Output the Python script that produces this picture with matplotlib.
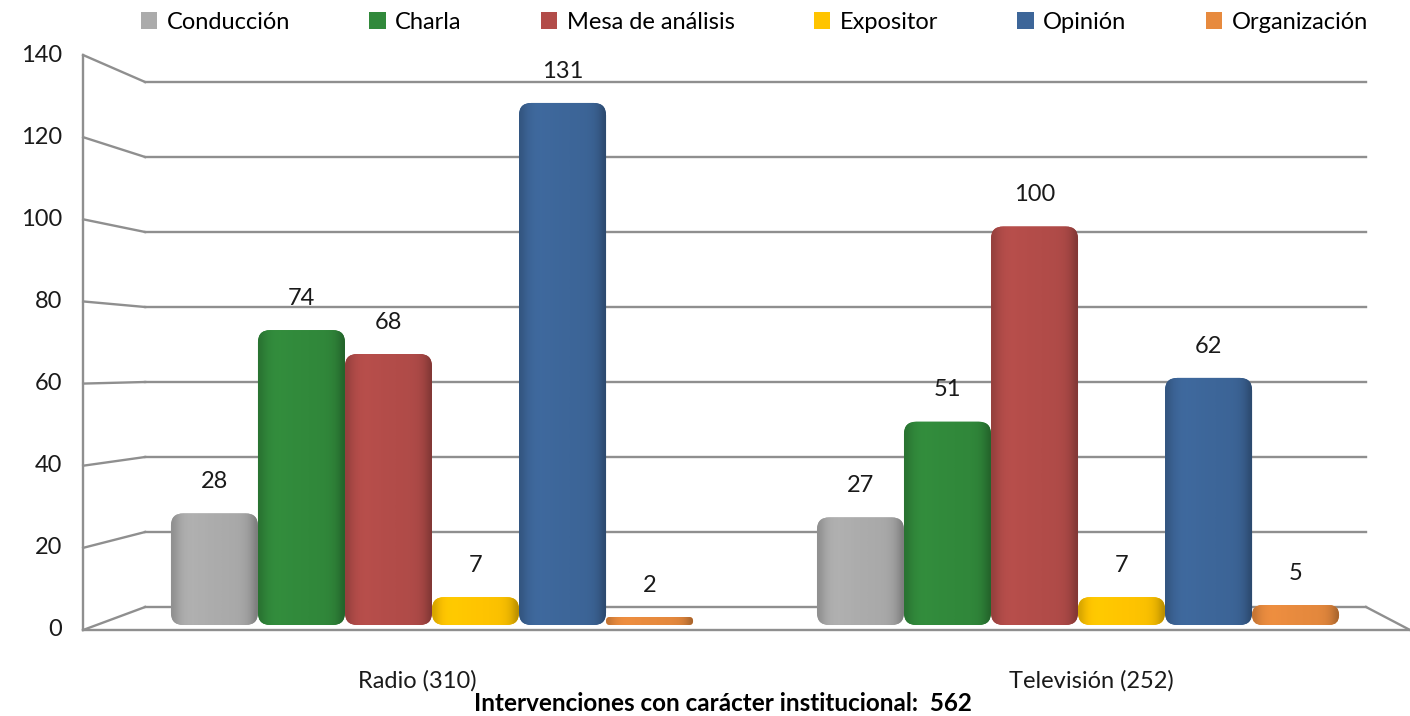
import numpy as np
import matplotlib
matplotlib.use('Agg')
import matplotlib.pyplot as plt
from matplotlib.patches import FancyBboxPatch, Patch
from matplotlib.colors import to_rgb

plt.rcParams['font.family'] = ['Lato', 'DejaVu Sans']

grupos = ['Radio (310)', 'Televisión (252)']
series = ['Conducción', 'Charla', 'Mesa de análisis', 'Expositor', 'Opinión', 'Organización']
colores = ['#ABABAB', '#31893B', '#B24C49', '#FFC400', '#3D6699', '#E78A3E']
valores = [
    [28, 27],    # Conducción
    [74, 51],    # Charla
    [68, 100],   # Mesa de análisis
    [7, 7],      # Expositor
    [131, 62],   # Opinión
    [2, 5],      # Organización
]
ticks_y = [0, 20, 40, 60, 80, 100, 120, 140]
titulo = 'Intervenciones con carácter institucional:  562'

# pseudo 3D geometry (bars plane is the data plane)
ancho = 0.1347
front_k, front_b = 1.0306, -1.255
back_k, back_b = 0.941, 4.517
x_fl, x_bl, x_br, x_fr = -0.540, -0.444, 1.4458, 1.5139


def frente(v):
    return v * front_k + front_b


def fondo(v):
    return v * back_k + back_b


fig = plt.figure(figsize=(14.1, 7.16), dpi=100)
ax = fig.add_axes([0, 0, 1, 1])
ax.axis('off')

gris = '#8F8F8F'
for v in ticks_y:
    ax.plot([x_fl, x_bl], [frente(v), fondo(v)], color=gris, lw=1.7, zorder=1)
    ax.plot([x_bl, x_br], [fondo(v), fondo(v)], color=gris, lw=1.7, zorder=1)
    ax.text(x_fl - 0.032, frente(v), str(v), ha='right', va='center', fontsize=17, color='#1A1A1A')
ax.plot([x_fl, x_fl], [frente(0), frente(140)], color=gris, lw=1.7, zorder=1)
ax.plot([x_fl, x_fr], [frente(0), frente(0)], color=gris, lw=1.7, zorder=1)
ax.plot([x_br, x_fr], [fondo(0), frente(0)], color=gris, lw=1.7, zorder=1)

asp = (1410 / (1.5139 + 0.6687)) / (716 / (156.84 + 22.84))
perfil = np.array([0.84, 0.93, 0.99, 1.02, 1.03, 1.03, 1.02, 1.02, 1.01, 1.01,
                   1.0, 1.0, 1.0, 0.99, 0.99, 0.98, 0.96, 0.92, 0.84, 0.72])
for j, (serie, col) in enumerate(zip(series, colores)):
    xs = np.arange(len(grupos)) + (j - 2.5) * ancho
    barras = ax.bar(xs, valores[j], width=ancho, color='none', edgecolor='none')
    base = np.array(to_rgb(col))
    grad = np.clip(perfil[:, None] * base[None, :], 0, 1)[None, :, :]
    for b, v in zip(barras, valores[j]):
        x0, w, h = b.get_x(), b.get_width(), b.get_height()
        r = min(0.019, h / asp / 2)
        caja = FancyBboxPatch((x0, 0), w, h, boxstyle='round,pad=0,rounding_size=%f' % r,
                              mutation_aspect=asp, facecolor=col, edgecolor='none', zorder=3)
        ax.add_patch(caja)
        im = ax.imshow(grad, extent=(x0, x0 + w, 0, h), aspect='auto', interpolation='bicubic', zorder=4)
        im.set_clip_path(caja)
        ax.text(x0 + w / 2, v + 8.0, str(v), ha='center', va='center', fontsize=17, color='#1A1A1A')

ax.set_xlim(-0.6687, 1.5139)
ax.set_ylim(-22.84, 156.84)

for i, g in enumerate(grupos):
    ax.text(i * 1.042 - 0.022, -13.9, g, ha='center', va='center', fontsize=17, color='#1A1A1A')
ax.text(0.451, -19.6, titulo, ha='center', va='center', fontsize=17.5, fontweight='bold', color='black')

manijas = [Patch(facecolor=c, edgecolor='none') for c in colores]
fig.legend(manijas, series, loc='center', bbox_to_anchor=(0.535, 0.969), ncol=6, frameon=False,
           fontsize=17, handlelength=0.7, handleheight=0.7, handletextpad=0.4, columnspacing=3.35)

fig.savefig('out.png', dpi=100)
